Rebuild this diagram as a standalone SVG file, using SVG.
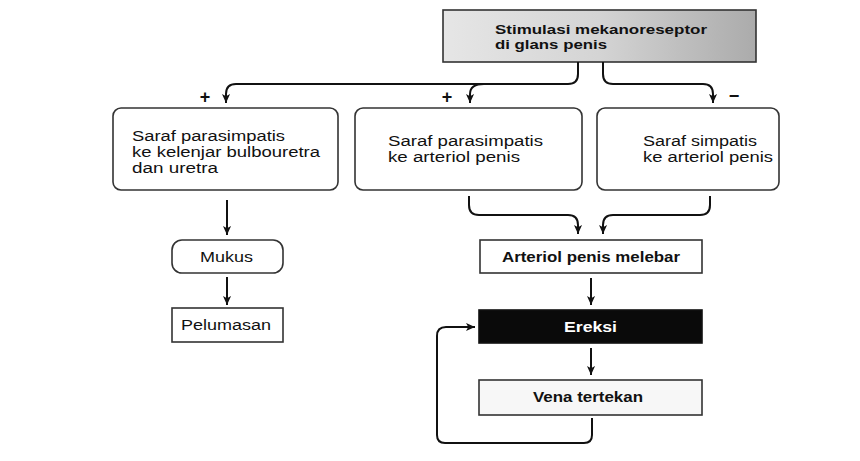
<svg xmlns="http://www.w3.org/2000/svg" width="860" height="461" viewBox="0 0 860 461">
<defs>
<linearGradient id="gTop" x1="0" y1="0" x2="1" y2="0">
<stop offset="0" stop-color="#e6e6e6"/>
<stop offset="0.5" stop-color="#d4d4d4"/>
<stop offset="1" stop-color="#ababab"/>
</linearGradient>
<marker id="ah" viewBox="0 0 10 10" refX="10" refY="5" markerWidth="9" markerHeight="9" markerUnits="userSpaceOnUse" orient="auto">
<path d="M0,0.5 L10,5 L0,9.5 L2.5,5 z" fill="#111"/>
</marker>
</defs>
<style>
text{font-family:"Liberation Sans",Arial,sans-serif;fill:#111;}
.n{font-size:14px;}
.b{font-size:14px;font-weight:bold;}
.t{font-size:13px;font-weight:bold;}
.box{fill:#fff;stroke:#333;stroke-width:1.6;}
.c{fill:none;stroke:#111;stroke-width:2;}
.sign{font-size:18px;font-weight:bold;}
</style>
<rect width="860" height="461" fill="#fff"/>

<g id="n-stimulasi">
<rect x="443" y="10" width="313" height="52" fill="url(#gTop)" stroke="#333" stroke-width="1.6"/>
<text class="t" x="495" y="34" textLength="212" lengthAdjust="spacingAndGlyphs">Stimulasi mekanoreseptor</text>
<text class="t" x="495" y="49" textLength="112" lengthAdjust="spacingAndGlyphs">di glans penis</text>
</g>

<g id="n-para-bulbo">
<rect class="box" x="113" y="108" width="225" height="82" rx="8"/>
<text class="n" x="132" y="141" textLength="153" lengthAdjust="spacingAndGlyphs">Saraf parasimpatis</text>
<text class="n" x="132" y="157" textLength="188" lengthAdjust="spacingAndGlyphs">ke kelenjar bulbouretra</text>
<text class="n" x="132" y="173" textLength="86" lengthAdjust="spacingAndGlyphs">dan uretra</text>
</g>

<g id="n-para-arteriol">
<rect class="box" x="355" y="108" width="227" height="82" rx="8"/>
<text class="n" x="388" y="146" textLength="155" lengthAdjust="spacingAndGlyphs">Saraf parasimpatis</text>
<text class="n" x="388" y="162" textLength="132" lengthAdjust="spacingAndGlyphs">ke arteriol penis</text>
</g>

<g id="n-simpatis">
<rect class="box" x="597" y="108" width="182" height="82" rx="8"/>
<text class="n" x="643" y="146" textLength="114" lengthAdjust="spacingAndGlyphs">Saraf simpatis</text>
<text class="n" x="643" y="162" textLength="130" lengthAdjust="spacingAndGlyphs">ke arteriol penis</text>
</g>

<g id="n-mukus">
<rect class="box" x="172" y="240" width="111" height="33" rx="10"/>
<text class="n" x="200" y="262" textLength="53" lengthAdjust="spacingAndGlyphs">Mukus</text>
</g>

<g id="n-pelumasan">
<rect class="box" x="172" y="308" width="111" height="34"/>
<text class="n" x="181" y="330" textLength="90" lengthAdjust="spacingAndGlyphs">Pelumasan</text>
</g>

<g id="n-arteriol">
<rect class="box" x="480" y="240" width="222" height="33"/>
<text class="b" x="502" y="262" textLength="178" lengthAdjust="spacingAndGlyphs">Arteriol penis melebar</text>
</g>

<g id="n-ereksi">
<rect x="479" y="310" width="223" height="33" fill="#0a0a0a" stroke="#111" stroke-width="1.6"/>
<text class="b" x="564" y="332" textLength="53" lengthAdjust="spacingAndGlyphs" style="fill:#fff">Ereksi</text>
</g>

<g id="n-vena">
<rect x="479" y="380" width="223" height="35" fill="#f7f7f7" stroke="#333" stroke-width="1.6"/>
<text class="b" x="533" y="402" textLength="110" lengthAdjust="spacingAndGlyphs">Vena tertekan</text>
</g>

<g id="connectors">
<path class="c" d="M578,62 V74 Q578,84 568,84 H236 Q226,84 226,94 V103" marker-end="url(#ah)"/>
<path class="c" d="M484,84 Q470,84 470,94 V103" marker-end="url(#ah)"/>
<path class="c" d="M603,62 V74 Q603,84 613,84 H703 Q713,84 713,94 V103" marker-end="url(#ah)"/>
<path class="c" d="M469,196 V205 Q469,215 479,215 H568 Q578,215 578,225 V234" marker-end="url(#ah)"/>
<path class="c" d="M710,196 V205 Q710,215 700,215 H613 Q603,215 603,225 V234" marker-end="url(#ah)"/>
<path class="c" d="M227,200 V235" marker-end="url(#ah)"/>
<path class="c" d="M227,277 V305" marker-end="url(#ah)"/>
<path class="c" d="M591,278 V305" marker-end="url(#ah)"/>
<path class="c" d="M591,348 V375" marker-end="url(#ah)"/>
<path class="c" d="M592,418 V435 Q592,443 584,443 H445 Q437,443 437,435 V336 Q437,327 446,327 H475" marker-end="url(#ah)"/>
<text class="sign" x="205" y="103" text-anchor="middle">+</text>
<text class="sign" x="447" y="103" text-anchor="middle">+</text>
<text class="sign" x="734" y="102" text-anchor="middle">−</text>
</g>
</svg>
